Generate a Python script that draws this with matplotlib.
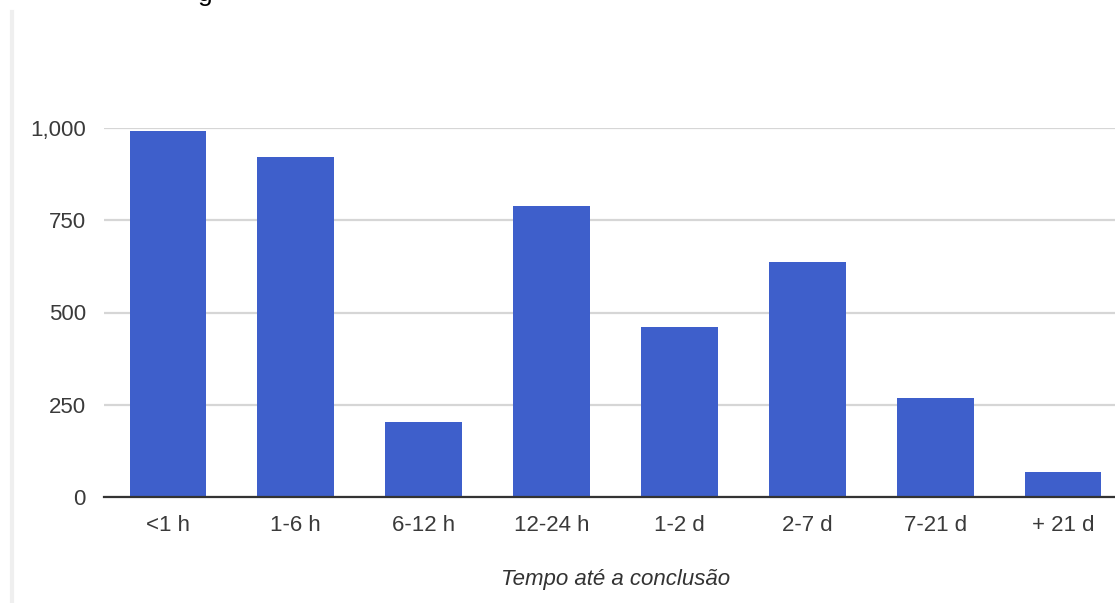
import matplotlib
matplotlib.use("Agg")
import matplotlib.pyplot as plt
from matplotlib.lines import Line2D

categories = ["<1 h", "1-6 h", "6-12 h", "12-24 h", "1-2 d", "2-7 d", "7-21 d", "+ 21 d"]
values = [992, 921, 203, 789, 461, 637, 268, 68]
yticks = [0, 250, 500, 750, 1000]
ytick_labels = ["0", "250", "500", "750", "1,000"]
x_title = "Tempo até a conclusão"

plt.rcParams['font.family'] = ['Liberation Sans', 'DejaVu Sans']

W, H = 1115, 603
fig = plt.figure(figsize=(W / 100, H / 100), dpi=100)
left = 104 / W
right = 1127 / W
bottom = 1 - 497 / H
top = 1 - 128 / H
ax = fig.add_axes([left, bottom, right - left, top - bottom])

x = list(range(len(categories)))
ax.bar(x, values, width=0.6, color="#3E5FCB", zorder=3)
ax.set_xlim(-0.5, len(categories) - 0.5)
ax.set_ylim(0, 1000)
ax.set_yticks(yticks)
ax.set_yticklabels(ytick_labels)
ax.set_xticks(x)
ax.set_xticklabels(categories)

for s in ["top", "right", "left"]:
    ax.spines[s].set_visible(False)
ax.spines["bottom"].set_color("#333333")
ax.spines["bottom"].set_linewidth(1.6)
ax.spines["bottom"].set_zorder(4)

ax.yaxis.grid(True, color="#d6d6d6", linewidth=1.6, zorder=0)
ax.set_axisbelow(True)
ax.tick_params(axis="both", length=0, labelsize=16, colors="#3a3a3a")
ax.tick_params(axis="y", pad=13)
ax.tick_params(axis="x", pad=13)

ax.set_xlabel(x_title, fontsize=16, style="italic", color="#333333", labelpad=24)

# panel border on the left
fig.add_artist(Line2D([11.5 / W, 11.5 / W], [0, 1 - 12 / H], transform=fig.transFigure,
                      color="#efefef", linewidth=3))
# cut-off title fragment at the very top
fig.text(198 / W, 1 - 1 / H, "g", fontsize=19, color="#000000", va="baseline", ha="left")

fig.savefig("out.png", dpi=100, facecolor="white")
